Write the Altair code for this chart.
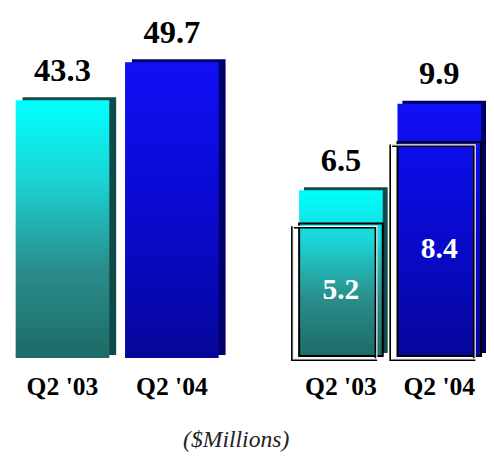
import altair as alt
import pandas as pd

quarters = ["Q2 '03", "Q2 '04"]
left_values = [43.3, 49.7]
right_values = [6.5, 9.9]
right_inner = [5.2, 8.4]
unit_note = "($Millions)"

left_df = pd.DataFrame({"quarter": quarters, "value": left_values})
right_df = pd.DataFrame({"quarter": quarters, "value": right_values, "inner": right_inner})

SERIF = "Liberation Serif"


def grad(stops):
    return alt.Gradient(
        gradient="linear", x1=0, x2=0, y1=0, y2=1,
        stops=[alt.GradientStop(offset=o, color=c) for o, c in stops],
    )


cyan_grad = grad([(0, "#00ffff"), (0.3, "#1ad6d6"), (0.65, "#2a8e8c"), (1, "#1d6b66")])
blue_grad = grad([(0, "#1010f6"), (0.5, "#0a0ad0"), (1, "#06069a")])
shadow_colors = ["#0d4a48", "#00006a"]


def xenc(p_inner, p_outer, label_pad):
    return alt.X(
        "quarter:N", sort=quarters,
        scale=alt.Scale(paddingInner=p_inner, paddingOuter=p_outer),
        axis=alt.Axis(title=None, domain=False, ticks=False, grid=False, labelAngle=0,
                      labelFont=SERIF, labelFontSize=26, labelFontWeight="bold",
                      labelColor="black", labelPadding=label_pad),
    )


def panel(df, dmax, width, height, p_inner, p_outer, label_pad, off, inner=False):
    x = xenc(p_inner, p_outer, label_pad)
    ysc = alt.Scale(domain=[0, dmax])
    y = alt.Y("value:Q", scale=ysc, axis=None)
    base = alt.Chart(df)
    shadow = base.mark_bar(xOffset=off, yOffset=-3).encode(
        x=x, y=y,
        color=alt.Color("quarter:N", sort=quarters,
                        scale=alt.Scale(domain=quarters, range=shadow_colors), legend=None),
    )
    front_c = base.mark_bar(color=cyan_grad).encode(x=x, y=y).transform_filter(
        alt.FieldEqualPredicate(field="quarter", equal=quarters[0]))
    front_b = base.mark_bar(color=blue_grad).encode(x=x, y=y).transform_filter(
        alt.FieldEqualPredicate(field="quarter", equal=quarters[1]))
    labels = base.mark_text(baseline="bottom", dy=-13, font=SERIF, fontWeight="bold",
                            fontSize=33, color="black").encode(
        x=x, y=y, text=alt.Text("value:Q", format=".1f"))
    layers = [shadow, front_c, front_b, labels]
    if inner:
        yi = alt.Y("inner:Q", scale=ysc, axis=None)
        back_frame = base.mark_bar(filled=False, stroke="black", strokeWidth=2).encode(x=x, y=yi)
        front_frame = base.mark_bar(filled=False, stroke="black", strokeWidth=2.5,
                                    xOffset=-7, yOffset=4).encode(x=x, y=yi)
        white_edge = base.mark_bar(filled=False, stroke="white", strokeWidth=1.2,
                                   xOffset=-6, yOffset=3).encode(x=x, y=yi)
        inner_text = base.transform_calculate(mid="datum.inner / 2").mark_text(
            baseline="middle", font=SERIF, fontWeight="bold", fontSize=30, color="white"
        ).encode(x=x, y=alt.Y("mid:Q", scale=ysc, axis=None),
                 text=alt.Text("inner:Q", format=".1f"))
        layers += [back_frame, front_frame, white_edge, inner_text]
    return alt.layer(*layers).properties(width=width, height=height)


left = panel(left_df, 58.2, 222, 352, 0.144, 0.07, 16, 7)
right = panel(right_df, 13.51, 185, 350, 0.15, 0.0, 18, 5, inner=True)

chart = alt.hconcat(left, right, spacing=74, bounds="flush").properties(
    padding={"left": 0, "top": 0, "right": 0, "bottom": 0},
    title=alt.TitleParams(unit_note, orient="bottom", anchor="middle", font=SERIF,
                          fontStyle="italic", fontWeight="normal", fontSize=24,
                          color="#222222", dx=-11, offset=30),
).configure_view(stroke=None)

chart.save("out.html", embed_options={"renderer": "svg", "actions": False})
